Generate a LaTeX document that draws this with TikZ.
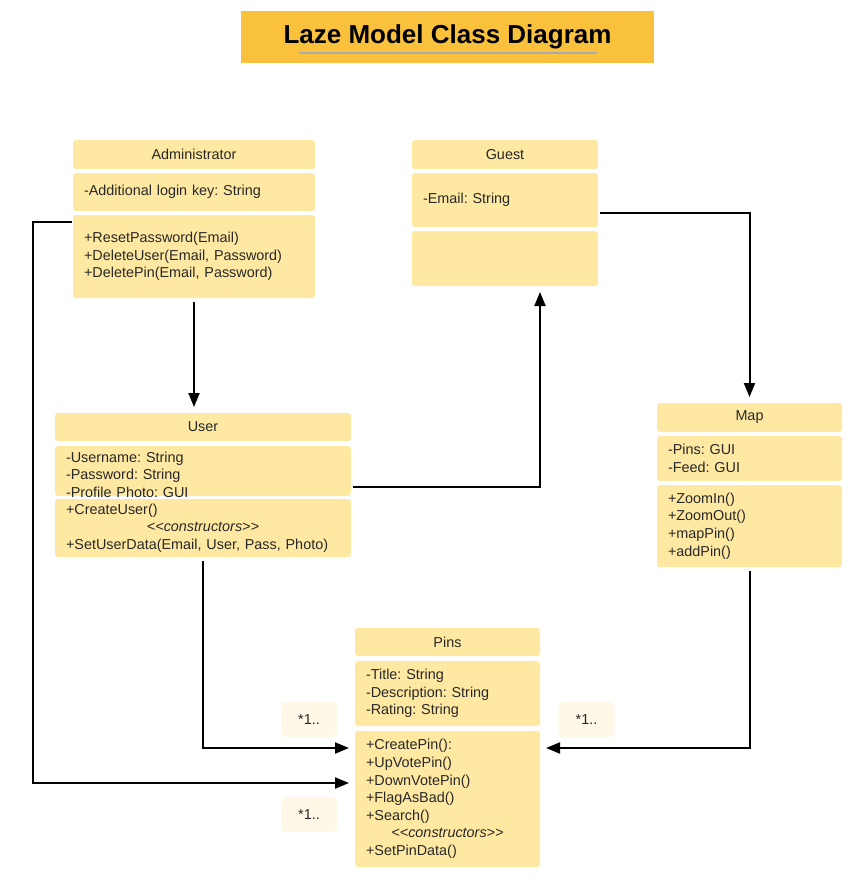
\documentclass[tikz,border=0pt]{standalone}
\usepackage{fontspec}
\setmainfont{Liberation Sans}
\usetikzlibrary{arrows.meta}
\frenchspacing

\definecolor{boxfill}{RGB}{255,232,162}
\definecolor{titlefill}{RGB}{250,193,60}
\definecolor{labfill}{RGB}{255,248,230}
\definecolor{txt}{RGB}{40,40,40}
\definecolor{ulinecol}{RGB}{165,170,185}

\tikzset{
  part/.style={fill=boxfill, draw=none, rounded corners=3pt, anchor=north west,
    inner xsep=11pt, inner ysep=0pt, outer sep=0pt, text=txt,
    font=\fontsize{14.4}{17.6}\selectfont},
  hdr/.style={part, align=center},
  body/.style={part, align=left},
  mult/.style={fill=labfill, draw=none, rounded corners=5pt, minimum width=56pt,
    minimum height=35pt, text=txt, font=\fontsize{14.4}{17}\selectfont},
  arr/.style={draw=black, line width=2pt,
    -{Triangle[length=14pt,width=11pt]}, shorten >=6pt, shorten <=2pt},
}
\newcommand{\stereo}[1]{\makebox[\linewidth][c]{\itshape <\kern0pt<#1>\kern0pt>}}

\begin{document}
\begin{tikzpicture}[x=1pt,y=-1pt]
\useasboundingbox (0,0) rectangle (863,881);

% title banner
\node[fill=titlefill, minimum width=413pt, minimum height=52pt, outer sep=0pt,
      font=\bfseries\fontsize{26}{30}\selectfont, text=black] (title) at (447.5,37)
      {Laze Model Class Diagram};
\draw[ulinecol, line width=1.5pt] ([shift={(-149,16)}]title.center) -- ([shift={(149,16)}]title.center);

% Administrator
\node[hdr, minimum width=242pt, minimum height=29pt] (adminH) at (73,140) {Administrator};
\node[body, minimum width=242pt, text width=220pt, minimum height=38pt] (adminA) at (73,173)
  {-Additional login key: String};
\node[body, minimum width=242pt, text width=220pt, minimum height=83pt] (adminM) at (73,215)
  {+ResetPassword(Email)\\+DeleteUser(Email, Password)\\+DeletePin(Email, Password)};

% Guest
\node[hdr, minimum width=186pt, minimum height=29pt] (guestH) at (412,140) {Guest};
\node[body, minimum width=186pt, text width=164pt, minimum height=54pt] (guestA) at (412,173)
  {-Email: String};
\node[body, minimum width=186pt, text width=164pt, minimum height=55pt] (guestM) at (412,231) {};

% User (attribute text sits low and runs to the lower edge)
\node[hdr, minimum width=296pt, minimum height=28pt] (userH) at (55,413) {User};
\node[body, minimum width=296pt, text width=274pt, minimum height=50pt] (userA) at (55,446) {};
\node[body, fill=none, anchor=west, text width=274pt] (userAttrs) at ([yshift=-3.5pt]userA.west)
  {-Username: String\\-Password: String\\-Profile Photo: GUI};
\node[body, minimum width=296pt, text width=274pt, minimum height=58pt] (userM) at (55,499)
  {+CreateUser()\\\stereo{constructors}\\+SetUserData(Email, User, Pass, Photo)};

% Map
\node[hdr, minimum width=185pt, minimum height=29pt] (mapH) at (657,403) {Map};
\node[body, minimum width=185pt, text width=163pt, minimum height=45pt] (mapA) at (657,436)
  {-Pins: GUI\\-Feed: GUI};
\node[body, minimum width=185pt, text width=163pt, minimum height=82pt] (mapM) at (657,485)
  {+ZoomIn()\\+ZoomOut()\\+mapPin()\\+addPin()};

% Pins
\node[hdr, minimum width=185pt, minimum height=28pt] (pinsH) at (355,628) {Pins};
\node[body, minimum width=185pt, text width=163pt, minimum height=65pt] (pinsA) at (355,661)
  {-Title: String\\-Description: String\\-Rating: String};
\node[body, minimum width=185pt, text width=163pt, minimum height=136pt] (pinsM) at (355,731)
  {+CreatePin():\\+UpVotePin()\\+DownVotePin()\\+FlagAsBad()\\+Search()\\\stereo{constructors}\\+SetPinData()};

% multiplicity labels
\node[mult] (multUser) at (309,719.5) {*1..};
\node[mult] (multAdmin) at (309,814.5) {*1..};
\node[mult] (multMap) at (586.5,719.5) {*1..};

% connector helpers
\coordinate (adminOut) at ([yshift=35pt]adminM.west);
\coordinate (rail) at (33,0);
\coordinate (pinsInHigh) at ([yshift=51pt]pinsM.west);
\coordinate (pinsInLow) at ([yshift=16pt]pinsM.west);
\coordinate (pinsInRight) at ([yshift=51pt]pinsM.east);

% connectors
\draw[arr, shorten <=4pt] (adminM.south) -- (adminM.south |- userH.north);
\draw[arr] ([yshift=-16pt]userA.east) -| ([xshift=35pt]guestM.south);
\draw[arr] ([yshift=-13pt]guestA.east) -| (mapH.north);
\draw[arr, shorten <=4pt] (userM.south) |- (pinsInHigh);
\draw[arr, shorten <=4pt] (mapM.south) |- (pinsInRight);
\draw[arr, shorten <=1pt] (adminOut) -- (adminOut -| rail) |- (pinsInLow);
\end{tikzpicture}
\end{document}
